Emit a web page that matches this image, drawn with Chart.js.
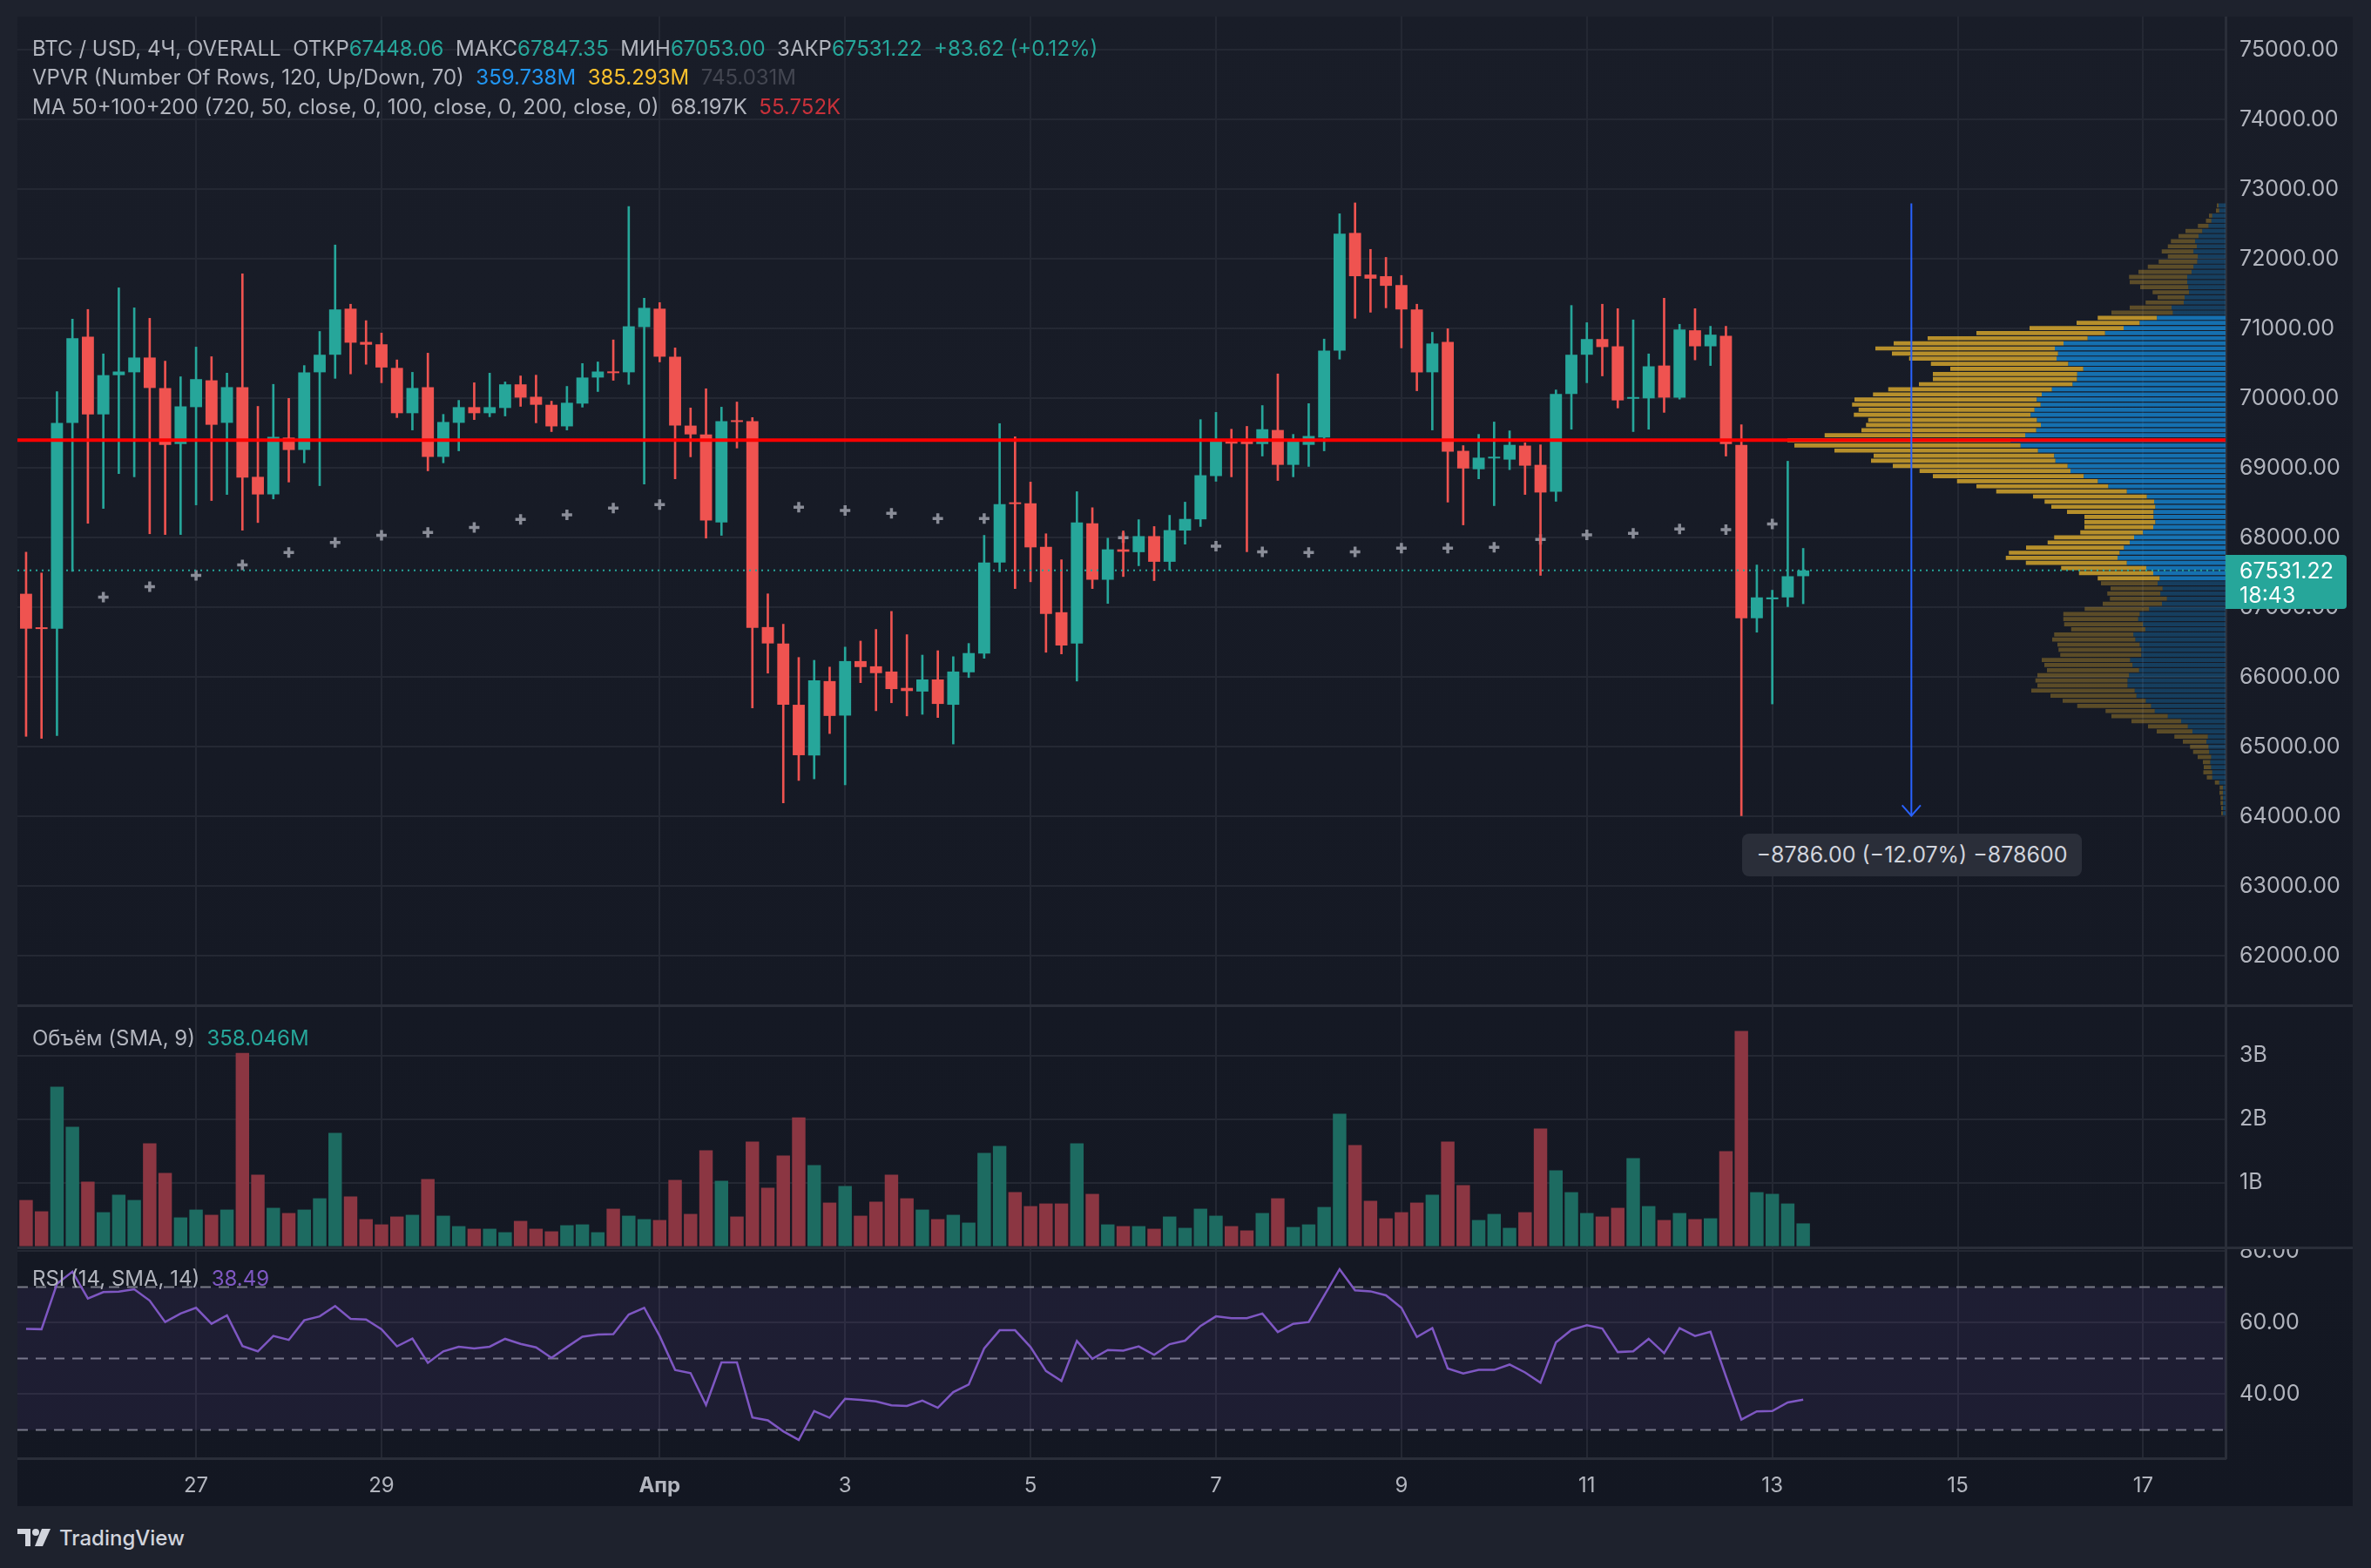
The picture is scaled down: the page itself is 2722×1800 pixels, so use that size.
<!DOCTYPE html>
<html>
<head>
<meta charset="utf-8">
<title>BTC / USD, 4Ч</title>
<script src="https://cdn.jsdelivr.net/npm/chart.js@4.4.1/dist/chart.umd.min.js"></script>
<style>
  html, body { margin: 0; padding: 0; }
  body { width: 2722px; height: 1800px; background: #1e222d; position: relative; overflow: hidden; font-family: Inter, "Noto Sans", sans-serif; }
  #frame { position: absolute; left: 20px; top: 19px; width: 2681px; height: 1710px; background: linear-gradient(#191d28, #131722); }
  .pane { position: absolute; left: 20px; width: 2681px; }
  .sep { position: absolute; left: 20px; width: 2681px; height: 3px; background: #2a2e39; }
  .legend { position: absolute; left: 37px; font-size: 24px; line-height: 28px; color: #b2b5be; white-space: pre; }
  .g { color: #26a69a; }
  #lastBox { position: absolute; left: 2555px; top: 637px; width: 139px; height: 62px; background: #26a69a; border-radius: 0 4px 4px 0; color: #fff; font-size: 25px; line-height: 28px; box-sizing: border-box; padding: 4px 0 0 16px; }
  #measure { position: absolute; left: 2000px; top: 957px; width: 390px; height: 49px; background: #2a2e39; border-radius: 8px; color: #d1d4dc; font-size: 25px; line-height: 49px; text-align: center; }
  #logo { position: absolute; left: 20px; top: 1750px; height: 30px; display: flex; align-items: center; gap: 8px; color: #d1d4dc; font-size: 24px; font-weight: 500; }
</style>
</head>
<body>
<div id="frame"></div>
<div class="pane" style="top:19px;height:1135px"><canvas id="priceChart"></canvas></div>
<div class="pane" style="top:1155px;height:277px"><canvas id="volChart"></canvas></div>
<div class="pane" style="top:1433px;height:296px"><canvas id="rsiChart"></canvas></div>
<div class="sep" style="top:1153px"></div>
<div class="sep" style="top:1431px"></div>

<div class="legend" id="leg1" style="top:42px"></div>
<div class="legend" style="top:75px">VPVR (Number Of Rows, 120, Up/Down, 70)  <span style="color:#2196f3">359.738M</span>  <span style="color:#fbc02d">385.293M</span>  <span style="color:#434651">745.031M</span></div>
<div class="legend" id="leg3" style="top:109px"></div>
<div class="legend" id="legVol" style="top:1178px"></div>
<div class="legend" id="legRsi" style="top:1454px"></div>

<div id="lastBox">67531.22<br>18:43</div>
<div id="measure">−8786.00 (−12.07%) −878600</div>
<div id="logo">
  <svg width="40" height="24" viewBox="0 0 40 24"><path d="M0 2h15v20H9V8H0z" fill="#d1d4dc"/><circle cx="21" cy="6" r="4" fill="#d1d4dc"/><path d="M28 2h10l-9 20h-9z" fill="#d1d4dc"/></svg>
  <span>TradingView</span>
</div>

<script>
// day labels on the time axis, at candle index (4h candles, 0 = 25 Mar 04:00)
const dayIdx = [11, 23, 41, 53, 65, 77, 89, 101, 113, 125, 137];
const dayLabels = ['27', '29', 'Апр', '3', '5', '7', '9', '11', '13', '15', '17'];
const priceTicks = [62000, 63000, 64000, 65000, 66000, 67000, 68000, 69000, 70000, 71000, 72000, 73000, 74000, 75000];
const volTicks = [1, 2, 3];
const rsiTicks = [40, 60, 80];

const open = [67196,66700,66695,69649,70885,69770,70333,70374,70586,70149,
  69345,69874,70259,69649,70161,68874,68621,69437,69259,70374,
  70626,71287,70810,70776,70437,69787,70161,69161,69649,69874,
  69787,69862,70201,70023,69908,69598,69925,70299,70385,70374,
  71023,71287,70598,69609,69483,68218,69684,69672,66718,66483,
  65603,64874,65943,65448,66230,66155,66080,65845,65793,65966,
  65603,66069,66339,67644,68506,68494,67868,66931,66483,68207,
  67397,67833,67793,68023,67655,68103,68264,68885,69379,69379,
  69345,69546,69046,69333,69437,70684,72374,71776,71753,71626,
  71276,70374,70810,69247,68983,69138,69121,69322,69046,68661,
  70063,70626,70851,70747,69994,70000,70471,70011,70977,70747,
  70897,69333,66845,67116,67144,67448.06];
const high = [67793,67494,70098,71138,71276,70638,71586,71299,71149,70534,
  70310,70736,70598,70362,71787,69885,70201,70000,70471,70960,
  72201,71351,71115,70937,70552,70374,70649,69770,69971,70224,
  70362,70236,70322,70333,69960,70172,70500,70523,70839,72753,
  71437,71374,70724,69862,70138,69874,69948,69724,67195,66759,
  66282,66241,66144,66431,66517,66684,66943,66609,66316,66379,
  66293,66483,68034,69638,69448,68799,68057,67684,68661,68431,
  67994,68098,68259,68161,68322,68511,69695,69799,69557,69598,
  69897,70351,69483,69925,70851,72649,72805,72138,72023,71764,
  71351,70948,71000,69322,69483,69661,69534,69362,69333,70121,
  71333,71086,71351,71287,71126,70638,71437,71063,71287,71034,
  71034,69621,67609,67247,69098,67847.35];
const low = [65150,65121,65161,67517,68207,68420,68920,68874,68057,68046,
  68046,68471,68534,68621,68109,68218,68557,68799,69075,68747,
  70287,70351,70489,70224,69724,69546,68960,69075,69247,69695,
  69736,69747,69885,69649,69523,69546,69874,70098,70259,70201,
  68770,70523,68845,69161,67994,68034,69287,65557,66057,64195,
  64517,64540,65190,64454,65920,65517,65632,65443,65466,65420,
  65040,65994,66270,67511,67270,67368,66356,66333,65943,67270,
  67057,67443,67598,67385,67534,67908,68161,68810,68874,67799,
  69172,68822,68874,69023,69247,70563,71149,71236,71299,70724,
  70109,69546,68511,68184,68845,68460,68977,68621,67460,68523,
  69557,70224,70322,69862,69523,69557,69799,69989,70552,70471,
  69172,64011,66644,65615,67011,67053.00];
const close = [66695,66690,69649,70862,69770,70333,70385,70586,70149,69333,
  69885,70276,69621,70161,68862,68621,69448,69259,70374,70626,
  71276,70799,70770,70443,69787,70149,69161,69661,69874,69787,
  69874,70201,70011,69908,69598,69937,70299,70385,70362,71034,
  71299,70598,69609,69483,68247,69672,69661,66707,66483,65603,
  64879,65954,65443,66230,66144,66057,65828,65800,65966,65615,
  66080,66345,67644,68483,68483,67862,66908,66454,68218,67397,
  67833,67799,68023,67655,68109,68270,68897,69379,69351,69345,
  69557,69046,69379,69460,70684,72362,71753,71718,71615,71276,
  70374,70787,69236,68994,69149,69161,69333,69034,68649,70063,
  70626,70851,70736,69971,70011,70460,70011,70989,70747,70914,
  69345,66845,67144,67144,67447.60,67531.22];
// volume, billions USD
const volume = [0.726,0.548,2.507,1.877,1.014,0.534,0.808,0.726,1.616,1.151,
  0.452,0.575,0.493,0.575,3.041,1.123,0.603,0.521,0.575,0.753,
  1.781,0.781,0.425,0.342,0.466,0.493,1.055,0.479,0.315,0.274,
  0.274,0.219,0.397,0.274,0.233,0.329,0.342,0.219,0.589,0.479,
  0.425,0.411,1.041,0.507,1.507,1.027,0.466,1.644,0.918,1.425,
  2.027,1.274,0.685,0.945,0.479,0.699,1.123,0.753,0.575,0.425,
  0.493,0.370,1.466,1.575,0.849,0.630,0.671,0.671,1.616,0.822,
  0.342,0.315,0.315,0.274,0.466,0.288,0.589,0.479,0.315,0.247,
  0.521,0.753,0.301,0.342,0.616,2.082,1.589,0.712,0.438,0.534,
  0.685,0.808,1.644,0.959,0.411,0.507,0.288,0.534,1.849,1.192,
  0.849,0.521,0.466,0.603,1.384,0.630,0.411,0.521,0.425,0.438,
  1.493,3.384,0.849,0.822,0.671,0.358046];
const rsi = [58.3,58.2,70.9,74.3,66.8,68.6,68.7,69.4,66.2,60.2,
  62.6,64.2,59.7,62.1,53.5,52.0,56.3,55.2,60.7,61.8,
  64.7,61.1,60.9,58.2,53.4,55.6,48.8,52.0,53.3,52.8,
  53.3,55.5,54.1,53.1,50.2,53.2,56.1,56.7,56.8,62.3,
  64.2,56.3,46.8,45.9,37.0,48.9,48.9,33.5,32.7,29.6,
  27.2,35.3,33.4,38.7,38.4,38.0,36.9,36.7,38.2,36.2,
  40.6,42.7,52.8,57.9,57.9,53.2,46.5,43.7,54.9,49.9,
  52.4,52.2,53.4,51.0,54.0,55.0,59.1,61.8,61.3,61.3,
  62.6,57.4,59.7,60.2,67.6,75.0,69.1,68.8,67.7,64.2,
  56.0,58.5,47.2,45.8,46.8,46.8,48.3,46.1,43.2,54.5,
  58.0,59.3,58.4,51.8,52.0,55.5,51.5,58.5,56.3,57.5,
  45.0,32.9,35.2,35.3,37.7,38.49];
// MA 50 (plotted as crosses every third candle)
const maIdx = [5,8,11,14,17,20,23,26,29,32,35,38,41,44,47,50,53,56,59,62,65,68,71,74,77,80,83,86,89,92,95,98,101,104,107,110,113];
const maVal = [67149,67299,67460,67609,67787,67931,68034,68075,68149,68264,68328,68425,68477,68460,68445,68437,68391,68351,68276,68276,
  68200,68100,68000,67930,67879,67799,67787,67799,67851,67851,67862,67977,68040,68063,68126,68115,68197];
// VPVR, 120 rows from the top price down, millions
const vpUp = [32,29,61,65,78,107,124,140,132,147,127,130,147,156,176,176,171,168,188,192,
  248,242,315,394,468,553,633,744,784,769,776,722,653,681,682,702,797,844,867,849,
  877,895,866,848,869,920,987,941,861,787,781,725,712,651,586,538,453,361,328,322,
  330,330,322,332,379,420,440,466,486,496,453,364,332,302,312,289,299,269,292,351,
  394,401,379,368,423,414,394,387,387,438,427,397,443,450,450,417,409,366,342,325,
  265,204,173,152,81,88,78,75,66,70,66,61,61,29,12,12,12,12,12,12];
const vpDown = [8,15,15,25,49,77,92,111,133,146,138,177,210,244,267,264,221,167,124,175,
  192,282,272,290,432,591,735,780,824,763,677,631,611,663,662,706,752,775,837,866,
  808,812,775,803,803,921,1025,1039,935,829,847,803,693,693,647,606,600,523,503,478,
  398,318,326,316,288,367,377,450,509,513,464,391,341,285,260,239,244,262,272,296,
  351,344,362,341,364,382,378,380,372,406,405,423,421,423,414,475,395,382,339,226,
  259,228,183,164,154,108,85,74,62,34,34,41,25,20,15,16,11,11,8,8];
const vpHigh = 72805, vpLow = 64011;
const vaFirst = 22, vaLast = 73;

const keyLevel = 69400;
const measureIdx = 122, measureFrom = 72797, measureTo = 64011;
const rsiUpper = 70, rsiMid = 50, rsiLower = 30;

// visible window
const xMin = -0.56, xMax = 142.33;
const priceMin = 61291, priceMax = 75479;

const gridCol = '#242833', sepCol = '#2a2e39', txt = '#b2b5be';
const upCol = '#26a69a', dnCol = '#ef5350';

Chart.defaults.font.family = 'Inter, "Noto Sans", sans-serif';
Chart.defaults.color = txt;

function timeAxis(showLabels) {
  return {
    type: 'linear', min: xMin, max: xMax, offset: false,
    afterBuildTicks: s => { s.ticks = dayIdx.map(v => ({ value: v })); },
    grid: { color: gridCol, lineWidth: 2, drawTicks: false, offset: false },
    border: { display: showLabels, color: sepCol, width: 3 },
    ticks: {
      display: showLabels, autoSkip: false, maxRotation: 0, padding: 17, color: txt,
      font: c => ({ size: 24, weight: dayLabels[c.index] === 'Апр' ? 'bold' : 'normal' }),
      callback: (v, i) => dayLabels[i]
    },
    afterFit: s => { s.height = showLabels ? 55 : 0; s.paddingLeft = 0; s.paddingRight = 0; }
  };
}

function sideAxis(min, max, tickVals, fmt) {
  return {
    type: 'linear', position: 'right', min, max, offset: false,
    afterBuildTicks: s => { s.ticks = tickVals.map(v => ({ value: v })); },
    grid: { color: gridCol, lineWidth: 2, drawTicks: false },
    border: { display: true, color: sepCol, width: 3 },
    ticks: { autoSkip: false, padding: 16, color: txt, font: { size: 25 }, callback: fmt },
    afterFit: s => { s.width = 146; s.paddingTop = 0; s.paddingBottom = 0; }
  };
}

const baseOpts = {
  responsive: true, maintainAspectRatio: false, animation: false, events: [],
  layout: { padding: 0, autoPadding: false },
  plugins: { legend: { display: false }, tooltip: { enabled: false } }
};

const idx = open.map((_, i) => i);
const candleCol = idx.map(i => close[i] >= open[i] ? upCol : dnCol);
const rowStep = (vpHigh - vpLow) / vpUp.length;
const rowPrice = vpUp.map((_, k) => vpHigh - (k + 0.5) * rowStep);
const inVA = k => k >= vaFirst && k <= vaLast;

new Chart(document.getElementById('priceChart'), {
  type: 'bar',
  data: {
    datasets: [
      { type: 'bar', indexAxis: 'y', xAxisID: 'xp', yAxisID: 'yp', order: 10, grouped: false,
        data: vpUp.map((u, k) => ({ y: rowPrice[k], x: [0, u] })),
        backgroundColor: vpUp.map((_, k) => inVA(k) ? 'rgba(21,146,230,0.72)' : 'rgba(21,146,230,0.3)'),
        barPercentage: 1, categoryPercentage: 0.8 },
      { type: 'bar', indexAxis: 'y', xAxisID: 'xp', yAxisID: 'yp', order: 10, grouped: false,
        data: vpDown.map((d, k) => ({ y: rowPrice[k], x: [vpUp[k], vpUp[k] + d] })),
        backgroundColor: vpDown.map((_, k) => inVA(k) ? 'rgba(251,192,45,0.7)' : 'rgba(251,192,45,0.3)'),
        barPercentage: 1, categoryPercentage: 0.8 },
      { type: 'line', order: 8, showLine: false,
        data: maIdx.map((x, j) => ({ x, y: maVal[j] })),
        pointStyle: 'cross', pointRadius: 6, pointBorderWidth: 3.5, pointBorderColor: '#8a8d98' },
      { type: 'bar', order: 6, grouped: false, barThickness: 2,
        data: idx.map(i => ({ x: i, y: [low[i], high[i]] })), backgroundColor: candleCol },
      { type: 'bar', order: 5, grouped: false, barPercentage: 0.78, categoryPercentage: 1, minBarLength: 2,
        data: idx.map(i => ({ x: i, y: [open[i], close[i]] })), backgroundColor: candleCol },
      { type: 'line', order: 3, pointRadius: 0, borderColor: upCol, borderWidth: 2, borderDash: [2, 5],
        data: [{ x: xMin, y: close[close.length - 1] }, { x: xMax, y: close[close.length - 1] }] },
      { type: 'line', order: 2, pointRadius: 0, borderColor: '#ff0000', borderWidth: 4,
        data: [{ x: xMin, y: keyLevel }, { x: xMax, y: keyLevel }] },
      { type: 'line', order: 1, pointRadius: 0, borderColor: '#2962ff', borderWidth: 2,
        data: [{ x: measureIdx, y: measureFrom }, { x: measureIdx, y: measureTo }] },
      { type: 'line', order: 1, pointRadius: 0, borderColor: '#2962ff', borderWidth: 2,
        data: [{ x: measureIdx - 0.6, y: measureTo + 150 }, { x: measureIdx, y: measureTo }, { x: measureIdx + 0.6, y: measureTo + 150 }] }
    ]
  },
  options: {
    ...baseOpts,
    scales: {
      x: timeAxis(false),
      y: sideAxis(priceMin, priceMax, priceTicks, v => v.toFixed(2)),
      xp: { axis: 'x', type: 'linear', reverse: true, min: 0, max: 10140, display: false, offset: false },
      yp: { axis: 'y', type: 'linear', min: priceMin, max: priceMax, display: false, offset: false, grid: { offset: false } }
    }
  }
});

new Chart(document.getElementById('volChart'), {
  type: 'bar',
  data: {
    datasets: [{
      data: idx.map(i => ({ x: i, y: volume[i] })),
      backgroundColor: idx.map(i => close[i] >= open[i] ? '#1d6b61' : '#8b3642'),
      barPercentage: 0.87, categoryPercentage: 1
    }]
  },
  options: { ...baseOpts, scales: { x: timeAxis(false), y: sideAxis(-0.02, 3.776, volTicks, v => v + 'B') } }
});

const band = y => [{ x: xMin, y }, { x: xMax, y }];
new Chart(document.getElementById('rsiChart'), {
  type: 'line',
  data: {
    datasets: [
      { order: 1, data: rsi.map((v, i) => ({ x: i, y: v })), borderColor: '#7e57c2', borderWidth: 2.5, pointRadius: 0 },
      { order: 3, data: band(rsiUpper), borderColor: '#787b86', borderWidth: 2, borderDash: [12, 9], pointRadius: 0,
        fill: '+1', backgroundColor: 'rgba(126,87,194,0.1)' },
      { order: 3, data: band(rsiLower), borderColor: '#787b86', borderWidth: 2, borderDash: [12, 9], pointRadius: 0 },
      { order: 3, data: band(rsiMid), borderColor: '#787b86', borderWidth: 2, borderDash: [12, 9], pointRadius: 0 }
    ]
  },
  options: { ...baseOpts, scales: { x: timeAxis(true), y: sideAxis(22.07, 80.85, rsiTicks, v => v.toFixed(2)) } }
});

// legends
const n = close.length - 1;
const chg = close[n] - close[n - 1];
const sign = chg >= 0 ? '+' : '−';
document.getElementById('leg1').innerHTML =
  'BTC / USD, 4Ч, OVERALL  ОТКР<span class="g">' + open[n].toFixed(2) + '</span>  МАКС<span class="g">' + high[n].toFixed(2) +
  '</span>  МИН<span class="g">' + low[n].toFixed(2) + '</span>  ЗАКР<span class="g">' + close[n].toFixed(2) +
  '</span>  <span class="g">' + sign + Math.abs(chg).toFixed(2) + ' (' + sign + Math.abs(chg / close[n - 1] * 100).toFixed(2) + '%)</span>';
document.getElementById('leg3').innerHTML =
  'MA 50+100+200 (720, 50, close, 0, 100, close, 0, 200, close, 0)  ' + (maVal[maVal.length - 1] / 1000).toFixed(3) + 'K  <span style="color:#c8313a">55.752K</span>';
document.getElementById('legVol').innerHTML =
  'Объём (SMA, 9)  <span class="g">' + (volume[n] * 1000).toFixed(3) + 'M</span>';
document.getElementById('legRsi').innerHTML =
  'RSI (14, SMA, 14)  <span style="color:#7e57c2">' + rsi[n].toFixed(2) + '</span>';
</script>
</body>
</html>
